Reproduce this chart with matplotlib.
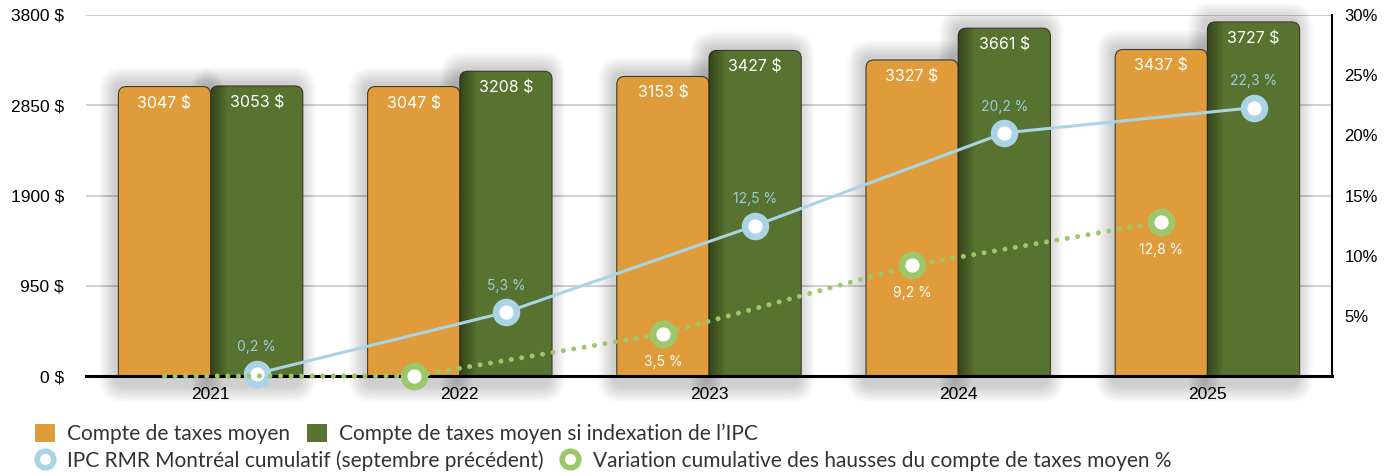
import numpy as np
import matplotlib.pyplot as plt
from matplotlib.patches import FancyBboxPatch, Patch, Rectangle
from matplotlib.lines import Line2D

# Donnees du graphique
years = ["2021", "2022", "2023", "2024", "2025"]
compte_moyen = [3047, 3047, 3153, 3327, 3437]
compte_ipc = [3053, 3208, 3427, 3661, 3727]
ipc_cumul = [0.2, 5.3, 12.5, 20.2, 22.3]
variation_cumul = [0.0, 0.0, 3.5, 9.2, 12.8]
left_ticks = [0, 950, 1900, 2850, 3800]
right_ticks = [5, 10, 15, 20, 25, 30]

ORANGE = "#E09C3B"
GREEN = "#58722F"
BLUE = "#A9D4E6"
LGREEN = "#9CC86B"

W, H = 1394, 476
fig = plt.figure(figsize=(W / 100, H / 100), dpi=100)
ax = fig.add_axes([86 / W, 1 - 376 / H, (1332 - 86) / W, (376 - 15) / H])

x = np.arange(len(years))
bw = 0.37
ax.set_xlim(-0.5, len(years) - 0.5)
ax.set_ylim(0, 3800)

# px -> data helpers for rounded corners
px_x = (len(years)) / (1332 - 86)
px_y = 3800 / (376 - 15)
rad = 8 * px_x
aspect = (8 * px_y) / rad


def rounded_bar(xc, h, color, z=3, inner_shadow=False):
    # soft shadow, a bit up-left
    for i in range(12):
        pad = 1 + 1.4 * i
        s = FancyBboxPatch((xc - bw / 2 - pad * px_x - 3 * px_x, -10 * px_y - pad * px_y),
                           bw + 2 * pad * px_x, h + 10 * px_y + 2 * pad * px_y + 3 * px_y,
                           boxstyle="round,pad=0,rounding_size=%f" % (rad + pad * px_x),
                           mutation_aspect=aspect, fc="black", ec="none",
                           alpha=0.015, zorder=1, clip_on=False)
        ax.add_patch(s)
    p = FancyBboxPatch((xc - bw / 2, -300), bw, h + 300,
                       boxstyle="round,pad=0,rounding_size=%f" % rad,
                       mutation_aspect=aspect, fc=color, ec="#3b3b2c",
                       lw=0.8, zorder=z)
    ax.add_patch(p)
    if inner_shadow:
        for i in range(8):
            r = Rectangle((xc - bw / 2, 0), (16 - 2 * i) * px_x, h,
                          fc="black", ec="none", alpha=0.05, zorder=z + 0.1)
            ax.add_patch(r)
            r.set_clip_path(p)
    ax.text(xc, h - 17 * px_y, f"{h} $", ha="center", va="center",
            color="white", fontsize=11.5, family="Inter", zorder=z + 1)


for i in range(len(years)):
    rounded_bar(x[i] - bw / 2, compte_moyen[i], ORANGE, z=3)
    rounded_bar(x[i] + bw / 2, compte_ipc[i], GREEN, z=4, inner_shadow=True)

ax.set_yticks(left_ticks)
ax.set_yticklabels([f"{v} $" for v in left_ticks], family="Liberation Sans", fontsize=12.5)
ax.set_xticks(x)
ax.set_xticklabels(years, family="Liberation Sans", fontsize=12.5)
ax.tick_params(axis="y", length=0, pad=16)
ax.tick_params(axis="x", length=0, pad=8)
ax.grid(axis="y", color="#c8c8c8", lw=1.2, zorder=0)
ax.set_axisbelow(True)
for s in ["left", "top", "right"]:
    ax.spines[s].set_visible(False)
ax.spines["bottom"].set_linewidth(2.2)
ax.spines["bottom"].set_zorder(6)

ax2 = ax.twinx()
ax2.set_ylim(0, 30)
ax2.set_yticks(right_ticks)
ax2.set_yticklabels([f"{v}%" for v in right_ticks], family="Liberation Sans", fontsize=12)
ax2.tick_params(axis="y", length=0, pad=9)
for s in ["left", "top", "bottom"]:
    ax2.spines[s].set_visible(False)
ax2.spines["right"].set_linewidth(1.5)

# IPC cumulatif
ax2.plot(x + bw / 2, ipc_cumul, color=BLUE, lw=2.2, marker="o", ms=15,
         mfc="white", mec=BLUE, mew=4.8, zorder=5, clip_on=False)
for xi, v in zip(x + bw / 2, ipc_cumul):
    ax2.annotate(f"{v:.1f} %".replace(".", ","), (xi, v), xytext=(0, 19),
                 textcoords="offset points", ha="center", va="center",
                 color="#9CCBE0", fontsize=10, family="Inter")

# Variation cumulative
ax2.plot(x - bw / 2, variation_cumul, color=LGREEN, lw=3.6,
         linestyle=(0, (0.01, 2.1)), dash_capstyle="round", zorder=5, clip_on=False)
ax2.plot((x - bw / 2)[1:], variation_cumul[1:], ls="none", marker="o", ms=15,
         mfc="white", mec=LGREEN, mew=4.8, zorder=6, clip_on=False)
for xi, v in zip((x - bw / 2)[2:], variation_cumul[2:]):
    ax2.annotate(f"{v:.1f} %".replace(".", ","), (xi, v), xytext=(0, -20),
                 textcoords="offset points", ha="center", va="center",
                 color="white", fontsize=10, family="Inter")

# Legende
leg_kw = dict(frameon=False, loc="center left", borderaxespad=0, borderpad=0,
              handlelength=0.95, handleheight=0.95, handletextpad=0.6,
              columnspacing=0.8, ncol=2,
              prop={"family": "Lato", "size": 15})
h1 = [Patch(fc=ORANGE, ec="none"), Patch(fc=GREEN, ec="none")]
l1 = fig.legend(h1, ["Compte de taxes moyen", "Compte de taxes moyen si indexation de l\u2019IPC"],
                bbox_to_anchor=(35 / W, 1 - 434 / H), **leg_kw)
h2 = [Line2D([], [], ls="none", marker="o", ms=12, mfc="white", mec=BLUE, mew=4),
      Line2D([], [], ls="none", marker="o", ms=12, mfc="white", mec=LGREEN, mew=4)]
l2 = fig.legend(h2, ["IPC RMR Montr\u00e9al cumulatif (septembre pr\u00e9c\u00e9dent)",
                     "Variation cumulative des hausses du compte de taxes moyen %"],
                bbox_to_anchor=(35 / W, 1 - 461 / H), **leg_kw)
for lg in (l1, l2):
    for t in lg.get_texts():
        t.set_color("#333333")

fig.savefig("out.png", dpi=100)
